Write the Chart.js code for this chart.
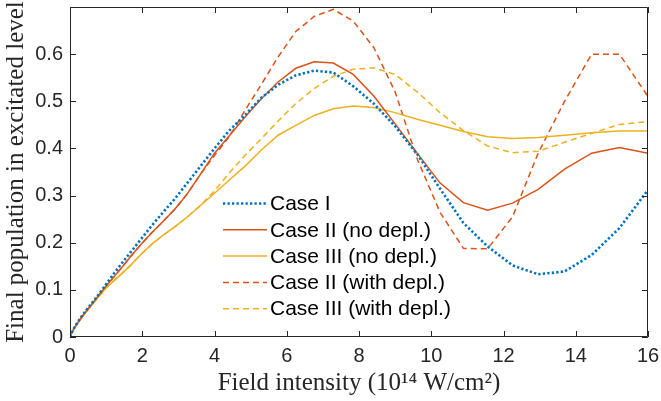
<!DOCTYPE html>
<html>
<head>
<meta charset="utf-8">
<script src="https://cdn.jsdelivr.net/npm/chart.js@4.4.0/dist/chart.umd.min.js"></script>
<style>
  html, body { margin: 0; padding: 0; background: #fff; }
  canvas { display: block; }
</style>
</head>
<body>
<canvas id="grafico" width="661" height="401"></canvas>
<script>

// Intensidade do campo (10^14 W/cm2) - pontos do calculo
const intensidades = [0, 0.01, 0.04, 0.09, 0.16, 0.25, 0.36, 0.49, 0.64, 0.81, 1, 1.21, 1.44, 1.69, 1.96, 2.25, 2.56, 2.89, 3.24, 3.61,
                      4, 4.41, 4.84, 5.29, 5.76, 6.25, 6.76, 7.29, 7.84, 8.41, 9, 9.61, 10.24, 10.89, 11.56, 12.25, 12.96, 13.69, 14.44, 15.21, 16];

const caso1 = [0, 0.003, 0.008, 0.016, 0.025, 0.036, 0.048, 0.061, 0.075, 0.092, 0.112, 0.134, 0.157, 0.181, 0.207, 0.235, 0.263, 0.292, 0.326, 0.362,
               0.400, 0.438, 0.470, 0.507, 0.535, 0.555, 0.565, 0.561, 0.532, 0.495, 0.447, 0.388, 0.315, 0.242, 0.192, 0.152, 0.133, 0.139, 0.174, 0.231, 0.312];

const caso2_sem = [0, 0.003, 0.008, 0.015, 0.024, 0.034, 0.046, 0.059, 0.073, 0.090, 0.108, 0.127, 0.148, 0.172, 0.196, 0.220, 0.244, 0.270, 0.303, 0.345,
                   0.390, 0.427, 0.466, 0.505, 0.541, 0.570, 0.584, 0.581, 0.557, 0.511, 0.452, 0.390, 0.327, 0.285, 0.269, 0.284, 0.313, 0.356, 0.390, 0.402, 0.390];

const caso3_sem = [0, 0.003, 0.008, 0.015, 0.023, 0.033, 0.044, 0.057, 0.071, 0.087, 0.104, 0.119, 0.135, 0.153, 0.175, 0.196, 0.215, 0.233, 0.254, 0.279,
                   0.305, 0.333, 0.362, 0.396, 0.428, 0.449, 0.470, 0.484, 0.490, 0.487, 0.476, 0.462, 0.449, 0.436, 0.425, 0.421, 0.423, 0.428, 0.433, 0.437, 0.437];

const caso2_com = [0, 0.003, 0.008, 0.015, 0.024, 0.034, 0.046, 0.059, 0.073, 0.090, 0.108, 0.127, 0.148, 0.172, 0.196, 0.220, 0.244, 0.270, 0.303, 0.345,
                   0.385, 0.425, 0.480, 0.535, 0.594, 0.648, 0.680, 0.695, 0.670, 0.614, 0.520, 0.378, 0.265, 0.188, 0.187, 0.255, 0.390, 0.500, 0.600, 0.600, 0.510];

const caso3_com = [0, 0.003, 0.008, 0.015, 0.023, 0.033, 0.044, 0.057, 0.071, 0.087, 0.104, 0.119, 0.135, 0.153, 0.175, 0.196, 0.215, 0.233, 0.254, 0.279,
                   0.310, 0.348, 0.385, 0.420, 0.458, 0.495, 0.527, 0.553, 0.568, 0.571, 0.557, 0.520, 0.476, 0.438, 0.405, 0.391, 0.394, 0.413, 0.432, 0.451, 0.457];

const rotulos = ['Case I', 'Case II (no depl.)', 'Case III (no depl.)', 'Case II (with depl.)', 'Case III (with depl.)'];

const AZUL = '#0072BD';
const VERMELHO = '#D95319';
const AMARELO = '#EDB120';

const fonte_sans = '"Liberation Sans", Arial, Helvetica, sans-serif';
const fonte_serif = '"Liberation Serif", "Times New Roman", serif';

function pontos(serie){
    return intensidades.map((x, i) => ({x: x, y: serie[i]}));
}


//***********************
//Moldura com ticks para dentro (estilo matlab)
//***********************
const moldura = {
    id: 'moldura',
    afterDatasetsDraw(chart){
        const {ctx, chartArea: a, scales: {x, y}} = chart;
        ctx.save();
        ctx.strokeStyle = '#262626';
        ctx.lineWidth = 1;
        ctx.beginPath();
        ctx.rect(a.left + 0.5, a.top + 0.5, a.right - a.left - 1, a.bottom - a.top - 1);
        x.ticks.forEach(t => {
            const px = Math.round(x.getPixelForValue(t.value)) + 0.5;
            ctx.moveTo(px, a.bottom); ctx.lineTo(px, a.bottom - 6);
            ctx.moveTo(px, a.top); ctx.lineTo(px, a.top + 6);
        });
        y.ticks.forEach(t => {
            const py = Math.round(y.getPixelForValue(t.value)) + 0.5;
            ctx.moveTo(a.left, py); ctx.lineTo(a.left + 6, py);
            ctx.moveTo(a.right, py); ctx.lineTo(a.right - 6, py);
        });
        ctx.stroke();
        ctx.restore();
    }
};

//***********************
//Legenda dentro do grafico
//***********************
const legenda = {
    id: 'legenda',
    afterDraw(chart){
        const ctx = chart.ctx;
        ctx.save();
        ctx.font = '21px ' + fonte_sans;
        ctx.textBaseline = 'middle';
        chart.data.datasets.forEach((ds, i) => {
            const yy = 203.5 + i * 26.3;
            ctx.strokeStyle = ds.borderColor;
            ctx.lineWidth = ds.borderWidth;
            ctx.setLineDash(ds.borderDash || []);
            ctx.beginPath();
            ctx.moveTo(223, yy);
            ctx.lineTo(267, yy);
            ctx.stroke();
            ctx.setLineDash([]);
            ctx.fillStyle = '#000';
            ctx.fillText(ds.label, 270, yy + 1);
        });
        ctx.restore();
    }
};


new Chart(document.getElementById('grafico'), {
    type: 'line',
    data: {
        datasets: [
            {label: rotulos[0], data: pontos(caso1), borderColor: AZUL, borderWidth: 2.6, borderDash: [2.3, 2.2]},
            {label: rotulos[1], data: pontos(caso2_sem), borderColor: VERMELHO, borderWidth: 1.5},
            {label: rotulos[2], data: pontos(caso3_sem), borderColor: AMARELO, borderWidth: 1.5},
            {label: rotulos[3], data: pontos(caso2_com), borderColor: VERMELHO, borderWidth: 1.5, borderDash: [6, 4]},
            {label: rotulos[4], data: pontos(caso3_com), borderColor: AMARELO, borderWidth: 1.5, borderDash: [6, 4]}
        ]
    },
    options: {
        responsive: false,
        animation: false,
        devicePixelRatio: 1,
        elements: {
            point: {radius: 0},
            line: {tension: 0, fill: false, borderCapStyle: 'butt'}
        },
        layout: {padding: {top: 7, right: 13, left: 0, bottom: 0}},
        plugins: {
            legend: {display: false},
            tooltip: {enabled: false}
        },
        scales: {
            x: {
                type: 'linear',
                min: 0,
                max: 16,
                grid: {display: false, drawTicks: false},
                border: {display: false},
                ticks: {stepSize: 2, padding: 7, maxRotation: 0, color: '#262626', font: {family: fonte_sans, size: 20}},
                title: {
                    display: true,
                    text: 'Field intensity (10\u00B9\u2074 W/cm\u00B2)',
                    color: '#262626',
                    font: {family: fonte_serif, size: 25},
                    padding: {top: 0, bottom: 3}
                },
                afterFit: s => { s.height = 64; s.paddingLeft = 0; s.paddingRight = 0; }
            },
            y: {
                type: 'linear',
                min: 0,
                max: 0.7,
                grid: {display: false, drawTicks: false},
                border: {display: false},
                afterBuildTicks: s => { s.ticks = s.ticks.filter(t => t.value < 0.65); },
                ticks: {
                    stepSize: 0.1,
                    padding: 7,
                    color: '#262626',
                    font: {family: fonte_sans, size: 20},
                    callback: v => String(Math.round(v * 10) / 10)
                },
                title: {
                    display: true,
                    text: 'Final population in excitated level',
                    color: '#262626',
                    font: {family: fonte_serif, size: 25},
                    padding: {top: 1, bottom: 0}
                },
                afterFit: s => { s.width = 70; s.paddingTop = 0; s.paddingBottom = 0; }
            }
        }
    },
    plugins: [moldura, legenda]
});
</script>
</body>
</html>
